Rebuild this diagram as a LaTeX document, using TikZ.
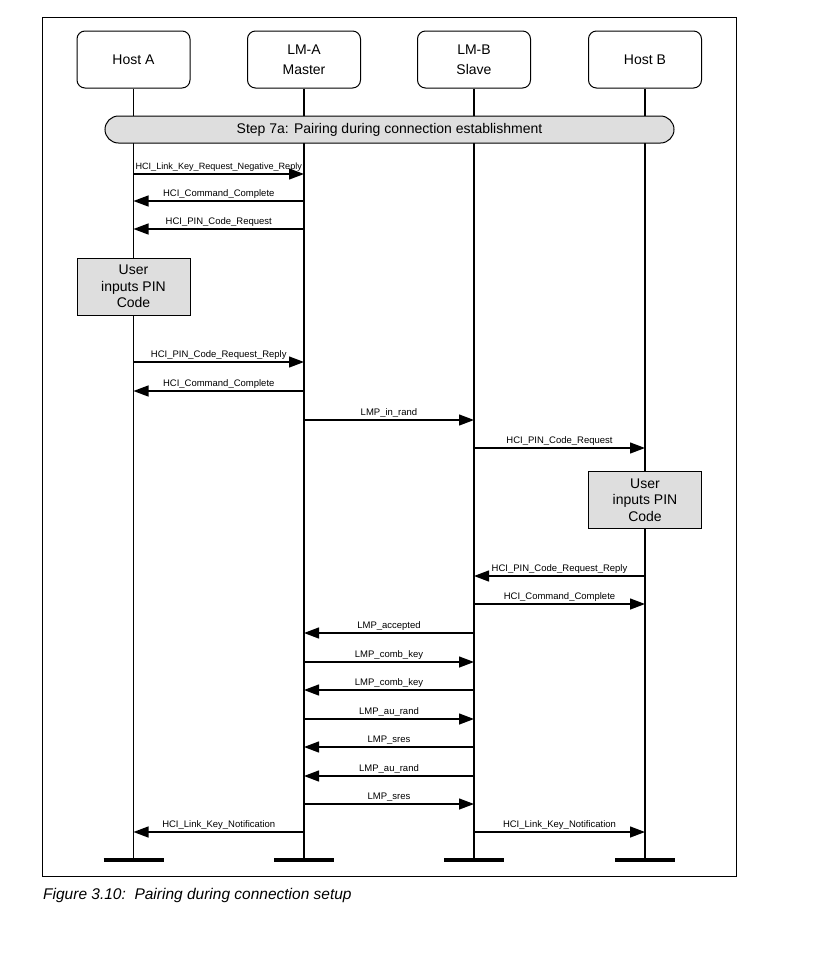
\documentclass[tikz,border=0pt]{standalone}
\usepackage{fontspec}
\setmainfont{Liberation Sans}
\usetikzlibrary{arrows.meta}
\begin{document}
\begin{tikzpicture}[x=1pt,y=-1pt,
  hdr/.style={draw, line width=1pt, rounded corners=8pt, minimum width=113pt, minimum height=57pt, inner sep=0pt, align=center, font=\fontsize{14}{20}\selectfont},
  ubox/.style={draw, line width=1pt, fill=black!13, minimum width=113pt, minimum height=57pt, inner sep=0pt, align=center, font=\fontsize{14}{16.5}\selectfont},
  stepbar/.style={draw, line width=1pt, fill=black!13, rounded corners=13.5pt, minimum width=569pt, minimum height=27pt, inner sep=0pt, font=\fontsize{14}{16}\selectfont},
  life/.style={line width=1.7pt},
  endbar/.style={line width=3.5pt},
  msg/.style={line width=1.3pt, -{Triangle[length=15pt,width=11pt]}},
  lbl/.style={above=0.5pt, inner sep=1.5pt, font=\fontsize{9.5}{11}\selectfont}
]
\useasboundingbox (0,0) rectangle (824,967);
\draw[line width=0.9pt] (42,17) rectangle (736,876);

% headers
\node[hdr] (hA) at (133.5,59.5) {Host A};
\node[hdr] (lA) at (304,59.5) {LM-A\\Master};
\node[hdr] (lB) at (474,59.5) {LM-B\\Slave};
\node[hdr] (hB) at (645,59.5) {Host B};

% ends
\coordinate (eA) at (133.5,860);
\coordinate (eLA) at (304,860);
\coordinate (eLB) at (474,860);
\coordinate (eB) at (645,860);

% lifelines
\draw[life] (hA.south) -- (eA);
\draw[life] (lA.south) -- (eLA);
\draw[life] (lB.south) -- (eLB);
\draw[life] (hB.south) -- (eB);

\draw[endbar] ([xshift=-30pt]eA) -- ([xshift=30pt]eA);
\draw[endbar] ([xshift=-30pt]eLA) -- ([xshift=30pt]eLA);
\draw[endbar] ([xshift=-30pt]eLB) -- ([xshift=30pt]eLB);
\draw[endbar] ([xshift=-30pt]eB) -- ([xshift=30pt]eB);

% step bar
\node[stepbar] (step) at (389.5,129.5) {Step 7a: Pairing during connection establishment};

% user boxes
\node[ubox] (uA) at (133.5,286.5) {User\\inputs PIN\\Code};
\node[ubox] (uB) at (645,500) {User\\inputs PIN\\Code};

% messages
\draw[msg] (hA |- 0,174) -- node[lbl, font=\fontsize{9.1}{11}\selectfont]{HCI\_Link\_Key\_Request\_Negative\_Reply} (lA |- 0,174);
\draw[msg] (lA |- 0,201) -- node[lbl]{HCI\_Command\_Complete} (hA |- 0,201);
\draw[msg] (lA |- 0,229) -- node[lbl]{HCI\_PIN\_Code\_Request} (hA |- 0,229);
\draw[msg] (hA |- 0,362) -- node[lbl]{HCI\_PIN\_Code\_Request\_Reply} (lA |- 0,362);
\draw[msg] (lA |- 0,391) -- node[lbl]{HCI\_Command\_Complete} (hA |- 0,391);
\draw[msg] (lA |- 0,420) -- node[lbl]{LMP\_in\_rand} (lB |- 0,420);
\draw[msg] (lB |- 0,448) -- node[lbl]{HCI\_PIN\_Code\_Request} (hB |- 0,448);
\draw[msg] (hB |- 0,576) -- node[lbl]{HCI\_PIN\_Code\_Request\_Reply} (lB |- 0,576);
\draw[msg] (lB |- 0,604) -- node[lbl]{HCI\_Command\_Complete} (hB |- 0,604);
\draw[msg] (lB |- 0,633) -- node[lbl]{LMP\_accepted} (lA |- 0,633);
\draw[msg] (lA |- 0,662) -- node[lbl]{LMP\_comb\_key} (lB |- 0,662);
\draw[msg] (lB |- 0,690) -- node[lbl]{LMP\_comb\_key} (lA |- 0,690);
\draw[msg] (lA |- 0,719) -- node[lbl]{LMP\_au\_rand} (lB |- 0,719);
\draw[msg] (lB |- 0,747) -- node[lbl]{LMP\_sres} (lA |- 0,747);
\draw[msg] (lB |- 0,776) -- node[lbl]{LMP\_au\_rand} (lA |- 0,776);
\draw[msg] (lA |- 0,804) -- node[lbl]{LMP\_sres} (lB |- 0,804);
\draw[msg] (lA |- 0,832) -- node[lbl]{HCI\_Link\_Key\_Notification} (hA |- 0,832);
\draw[msg] (lB |- 0,832) -- node[lbl]{HCI\_Link\_Key\_Notification} (hB |- 0,832);

% caption
\node[anchor=west, inner sep=0pt, font=\fontsize{15.5}{18}\selectfont\itshape] (cap) at (43,895) {Figure 3.10:\ \ Pairing during connection setup};
\end{tikzpicture}
\end{document}
